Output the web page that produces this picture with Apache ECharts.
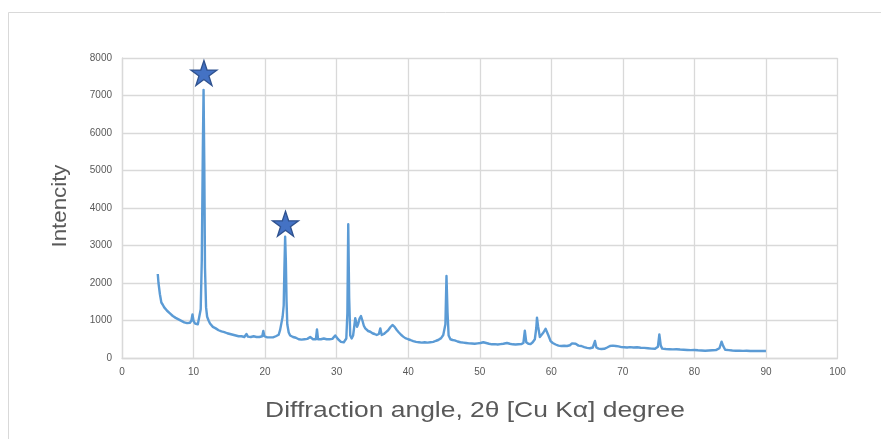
<!DOCTYPE html>
<html>
<head>
<meta charset="utf-8">
<script src="https://cdn.jsdelivr.net/npm/echarts@6/dist/echarts.min.js"></script>
<style>
  html, body { margin: 0; padding: 0; background: #ffffff; }
  #chart { width: 881px; height: 439px; }
</style>
</head>
<body>
<div id="chart"></div>
<script>
// XRD pattern: diffraction angle (2θ, degrees) and measured intensity
const angles = [
  5.0, 5.1, 5.3, 5.5, 5.7, 5.9, 6.1, 6.3, 6.5, 6.7, 6.9, 7.1, 7.3, 7.5, 7.7, 7.9,
  8.1, 8.3, 8.5, 8.7, 8.9, 9.1, 9.3, 9.5, 9.7, 9.85, 10.0, 10.2, 10.4, 10.6, 10.8,
  11.0, 11.15, 11.3, 11.4, 11.5, 11.6, 11.75, 11.9, 12.1, 12.3, 12.5, 12.7, 12.9,
  13.1, 13.3, 13.5, 13.7, 13.9, 14.1, 14.3, 14.5, 14.7, 14.9, 15.1, 15.3, 15.5,
  15.7, 15.9, 16.1, 16.3, 16.5, 16.7, 16.9, 17.1, 17.3, 17.4, 17.6, 17.8, 18.0,
  18.2, 18.4, 18.6, 18.8, 19.0, 19.2, 19.4, 19.6, 19.75, 19.9, 20.1, 20.3, 20.5,
  20.7, 20.9, 21.1, 21.3, 21.5, 21.7, 21.9, 22.1, 22.3, 22.45, 22.6, 22.7, 22.8,
  22.9, 23.0, 23.1, 23.3, 23.5, 23.7, 23.9, 24.1, 24.3, 24.5, 24.7, 24.9, 25.1,
  25.3, 25.5, 25.7, 25.9, 26.1, 26.3, 26.5, 26.7, 26.9, 27.1, 27.25, 27.4, 27.6,
  27.8, 28.0, 28.2, 28.4, 28.6, 28.8, 29.0, 29.2, 29.4, 29.6, 29.8, 30.0, 30.2,
  30.4, 30.6, 30.8, 31.0, 31.2, 31.35, 31.5, 31.62, 31.75, 31.9, 32.1, 32.3, 32.5,
  32.6, 32.7, 32.85, 33.0, 33.2, 33.4, 33.6, 33.8, 34.0, 34.2, 34.4, 34.7, 35.0,
  35.3, 35.6, 35.9, 36.1, 36.3, 36.6, 36.9, 37.2, 37.5, 37.8, 38.1, 38.4, 38.7,
  39.0, 39.3, 39.6, 40.0, 40.3, 40.7, 41.1, 41.5, 41.9, 42.3, 42.7, 43.1, 43.5,
  43.9, 44.2, 44.6, 44.9, 45.2, 45.35, 45.5, 45.65, 45.9, 46.2, 46.5, 46.9, 47.3,
  47.7, 48.1, 48.5, 48.9, 49.3, 49.7, 50.1, 50.5, 50.9, 51.3, 51.7, 52.1, 52.5,
  52.9, 53.3, 53.8, 54.2, 54.6, 55.0, 55.4, 55.8, 56.1, 56.3, 56.5, 56.8, 57.1,
  57.4, 57.7, 57.9, 58.0, 58.15, 58.4, 58.6, 58.9, 59.2, 59.35, 59.6, 59.9, 60.2,
  60.6, 61.0, 61.4, 61.8, 62.2, 62.6, 62.9, 63.1, 63.4, 63.8, 64.2, 64.6, 65.0,
  65.4, 65.8, 66.1, 66.3, 66.6, 67.0, 67.4, 67.8, 68.2, 68.6, 69.0, 69.4, 69.8,
  70.2, 70.6, 71.0, 71.5, 72.0, 72.5, 73.0, 73.5, 74.0, 74.5, 74.9, 75.1, 75.3,
  75.5, 76.0, 76.5, 77.0, 77.5, 78.0, 78.5, 79.0, 79.5, 80.0, 80.5, 81.0, 81.5,
  82.0, 82.5, 83.0, 83.5, 83.8, 84.0, 84.3, 84.8, 85.3, 85.8, 86.3, 86.8, 87.3,
  87.8, 88.3, 88.8, 89.3, 90.0
];
const intensity = [
  2240, 2000, 1700, 1480, 1420, 1350, 1320, 1260, 1230, 1190, 1150, 1120, 1100, 1070, 1060, 1030,
  1010, 990, 980, 950, 960, 930, 920, 940, 1000, 1160, 990, 920, 880, 900, 950,
  1300, 2600, 5600, 7150, 5200, 2400, 1350, 1100, 1000, 920, 880, 830, 800,
  790, 760, 740, 730, 710, 700, 690, 670, 660, 650, 640, 630, 620,
  610, 600, 590, 580, 570, 580, 560, 560, 600, 640, 570, 550, 560,
  600, 580, 570, 560, 550, 560, 550, 580, 720, 580, 560, 550, 560,
  550, 560, 550, 560, 580, 570, 620, 750, 950, 1100, 1400, 2400, 3235,
  2600, 1500, 900, 680, 600, 570, 560, 540, 540, 520, 500, 510, 490,
  490, 500, 520, 510, 480, 560, 600, 500, 480, 500, 760, 500, 470,
  500, 480, 520, 490, 500, 480, 500, 490, 510, 560, 600, 590, 500,
  450, 430, 440, 420, 430, 520, 1200, 3565, 1600, 600, 520, 600, 900,
  1060, 980, 830, 900, 1050, 1120, 1000, 860, 790, 750, 720, 700, 660,
  640, 613, 640, 790, 613, 640, 690, 740, 820, 880, 830, 747, 680,
  620, 570, 530, 500, 480, 450, 430, 420, 410, 420, 410, 420, 430,
  460, 480, 530, 613, 900, 2187, 1200, 600, 500, 480, 470, 440, 420,
  410, 400, 390, 385, 380, 390, 400, 420, 400, 380, 365, 370, 360,
  370, 380, 400, 380, 365, 360, 365, 370, 400, 730, 420, 380, 370,
  420, 500, 800, 1075, 850, 560, 600, 680, 780, 810, 600, 450, 400,
  360, 330, 320, 325, 320, 340, 390, 410, 380, 330, 320, 290, 270,
  260, 280, 453, 280, 250, 240, 245, 280, 320, 330, 320, 310, 290,
  285, 280, 290, 280, 285, 275, 270, 260, 250, 245, 300, 630, 330,
  250, 240, 235, 230, 235, 225, 220, 215, 210, 215, 205, 200, 195,
  200, 205, 210, 260, 437, 330, 220, 210, 200, 195, 195, 190, 195,
  188, 185, 190, 185, 185
];
// Peaks marked with a star
const starAngles = [11.45, 22.85];
const starIntensity = [7600, 3580];

const xTicks = { min: 0, max: 100, interval: 10 };
const yTicks = { min: 0, max: 8000, interval: 1000 };

const xTitle = 'Diffraction angle, 2θ [Cu Kα] degree';
const yTitle = 'Intencity';

const pattern = angles.map((a, i) => [a, intensity[i]]);
const stars = starAngles.map((a, i) => [a, starIntensity[i]]);

const gridColor = '#d9d9d9';
const textColor = '#595959';
const starPath = 'path://M50,0 L61.8,35.3 L99,35.3 L68.8,57.2 L80.3,92.7 L50,70.8 L19.7,92.7 L31.2,57.2 L1,35.3 L38.2,35.3 Z';
const plainNumber = v => String(v);

const chart = echarts.init(document.getElementById('chart'), null, { renderer: 'canvas' });
chart.setOption({
  backgroundColor: '#ffffff',
  animation: false,
  grid: { left: 122, right: 43.5, top: 58, bottom: 81 },
  xAxis: {
    type: 'value',
    min: xTicks.min, max: xTicks.max, interval: xTicks.interval,
    axisLine: { show: true, lineStyle: { color: gridColor, width: 1.3 } },
    axisTick: { show: false },
    splitLine: { show: true, lineStyle: { color: gridColor, width: 1.3 } },
    axisLabel: { color: textColor, fontSize: 10, fontFamily: 'Liberation Sans', margin: 9, formatter: plainNumber }
  },
  yAxis: {
    type: 'value',
    min: yTicks.min, max: yTicks.max, interval: yTicks.interval,
    axisLine: { show: true, lineStyle: { color: gridColor, width: 1.3 } },
    axisTick: { show: false },
    splitLine: { show: true, lineStyle: { color: gridColor, width: 1.3 } },
    axisLabel: { color: textColor, fontSize: 10, fontFamily: 'Liberation Sans', margin: 10, formatter: plainNumber }
  },
  graphic: [
    {
      type: 'rect', silent: true,
      shape: { x: 8.5, y: 12.5, width: 900, height: 460 },
      style: { fill: 'none', stroke: gridColor, lineWidth: 1 }
    },
    {
      type: 'text', silent: true,
      x: 475, y: 411, scaleX: 1.2,
      style: {
        text: xTitle, fill: textColor, font: '22px "Liberation Sans"',
        align: 'center', verticalAlign: 'middle'
      }
    },
    {
      type: 'text', silent: true,
      x: 60, y: 206, rotation: Math.PI / 2, scaleX: 1.06,
      style: {
        text: yTitle, fill: textColor, font: '21px "Liberation Sans"',
        align: 'center', verticalAlign: 'middle'
      }
    }
  ],
  series: [
    {
      type: 'line',
      data: pattern,
      showSymbol: false,
      symbol: 'none',
      lineStyle: { color: '#5b9bd5', width: 2.4, join: 'round' },
      z: 2
    },
    {
      type: 'scatter',
      data: stars,
      symbol: starPath,
      symbolSize: [26, 25],
      itemStyle: { color: '#4472c4', borderColor: '#2f528f', borderWidth: 1.3, opacity: 1 },
      z: 3
    }
  ]
});
</script>
</body>
</html>
